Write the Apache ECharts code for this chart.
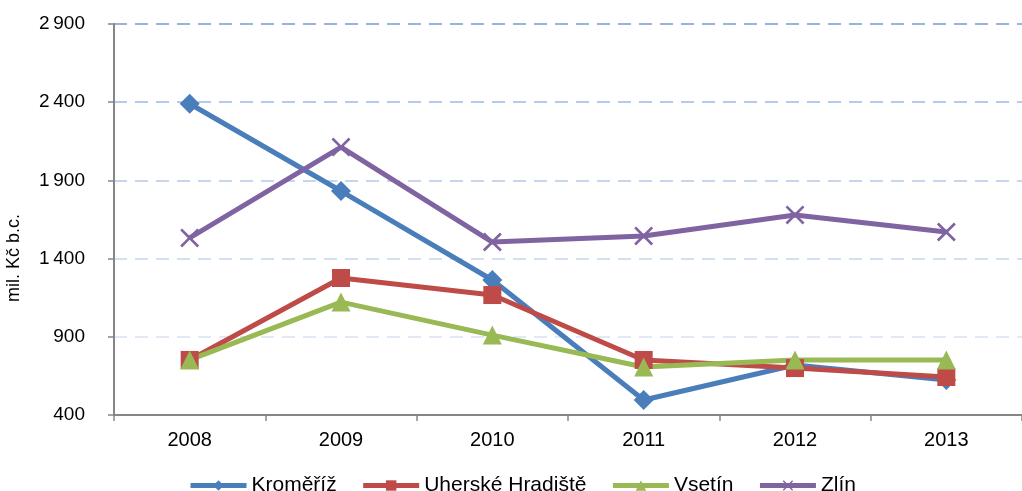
<!DOCTYPE html>
<html>
<head>
<meta charset="utf-8">
<script src="https://cdn.jsdelivr.net/npm/echarts@6/dist/echarts.min.js"></script>
<style>html,body{margin:0;padding:0;background:#fff;}#c{width:1022px;height:491px;}</style>
</head>
<body>
<div id="c"></div>
<script>
const categories = ['2008', '2009', '2010', '2011', '2012', '2013'];
const kromeriz = [2390, 1832, 1263, 496, 720, 624];
const uherskeHradiste = [752, 1276, 1167, 752, 700, 643];
const vsetin = [752, 1122, 911, 707, 752, 752];
const zlin = [1532, 2113, 1506, 1545, 1679, 1570];
const seriesNames = ['Kroměříž', 'Uherské Hradiště', 'Vsetín', 'Zlín'];
const yTicks = [400, 900, 1400, 1900, 2400, 2900];
const yAxisTitle = 'mil. Kč b.c.';

const xPath = 'path://M0,1.4 L1.4,0 L7,5.6 L12.6,0 L14,1.4 L8.4,7 L14,12.6 L12.6,14 L7,8.4 L1.4,14 L0,12.6 L5.6,7 Z';
const font = '"Liberation Sans", Arial, sans-serif';

function fmt(v) {
  const s = String(v);
  return s.length > 3 ? s.slice(0, s.length - 3) + '\u2009' + s.slice(-3) : s;
}

const chart = echarts.init(document.getElementById('c'), null, { renderer: 'canvas' });
const mk = (name, data, color, symbol, size) => ({
  name, type: 'line', data,
  symbol, symbolSize: size,
  lineStyle: { color, width: 5 },
  itemStyle: { color },
  emphasis: { disabled: true },
  animation: false
});
chart.setOption({
  animation: false,
  textStyle: { fontFamily: font },
  grid: { left: 114, top: 24, bottom: 76, width: 921 },
  graphic: [{
    type: 'text',
    x: 14, y: 258,
    rotation: Math.PI / 2,
    style: {
      text: yAxisTitle,
      font: '18px ' + font,
      fill: '#000',
      textAlign: 'center',
      textVerticalAlign: 'middle'
    }
  }],
  legend: {
    top: 470,
    left: 183,
    itemWidth: 56,
    itemHeight: 13,
    itemGap: 24,
    lineStyle: { width: 5 },
    textStyle: { fontSize: 21, color: '#000', fontFamily: font },
    data: seriesNames
  },
  xAxis: {
    type: 'category',
    data: categories,
    boundaryGap: true,
    axisLine: { lineStyle: { color: '#868686', width: 2 } },
    axisTick: { show: true, alignWithLabel: false, length: 6, lineStyle: { color: '#868686', width: 1.5 } },
    axisLabel: { color: '#000', fontSize: 20, margin: 15, fontFamily: font },
    splitLine: { show: false }
  },
  yAxis: {
    type: 'value',
    min: yTicks[0],
    max: yTicks[yTicks.length - 1],
    interval: 500,
    axisLine: { show: true, lineStyle: { color: '#868686', width: 2 } },
    axisTick: { show: true, length: 6, lineStyle: { color: '#868686', width: 1.5 } },
    axisLabel: { color: '#000', fontSize: 19, margin: 29, formatter: fmt, fontFamily: font },
    splitLine: {
      show: true,
      lineStyle: {
        type: [13, 8],
        width: 2,
        color: ['#ffffff', '#e2e9f6', '#d3dff3', '#c6d6ef', '#b6cbeb', '#98b3e0']
      }
    }
  },
  series: [
    mk(seriesNames[0], kromeriz, '#4a7ebb', 'diamond', 20),
    mk(seriesNames[1], uherskeHradiste, '#be4b48', 'rect', 18),
    mk(seriesNames[2], vsetin, '#98b954', 'triangle', 19),
    mk(seriesNames[3], zlin, '#8064a2', xPath, 19)
  ]
});
</script>
</body>
</html>
